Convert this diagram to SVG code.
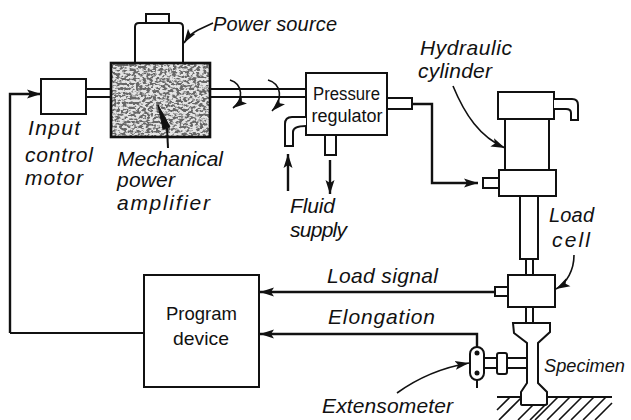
<svg xmlns="http://www.w3.org/2000/svg" width="631" height="420" viewBox="0 0 631 420">
<style>
.s{fill:none;stroke:#111;stroke-width:2;stroke-linejoin:round}
.f{fill:#fff;stroke:#111;stroke-width:2}
.t{stroke:#111;stroke-width:1.6;fill:none}
.a{fill:none;stroke:#111;stroke-width:2.4;marker-end:url(#ah)}
.b{fill:none;stroke:#111;stroke-width:1.6;marker-end:url(#ah)}
text{font-family:"Liberation Sans",Arial,sans-serif;font-style:italic;font-size:21px;fill:#111}
.u{font-style:normal;font-size:18px;text-anchor:middle}
</style>
<defs>
<marker id="ah" markerUnits="userSpaceOnUse" markerWidth="15" markerHeight="10" refX="14" refY="5" orient="auto"><path d="M0 0.5L14 5L0 9.500L3 5Z" fill="#111"/></marker>
<filter id="grain" x="0" y="0" width="100%" height="100%"><feTurbulence type="fractalNoise" baseFrequency="0.3 0.42" numOctaves="2" seed="11"/><feColorMatrix values="0 0 0 0 0.1 0 0 0 0 0.1 0 0 0 0 0.1 6 0 0 0 -2.6"/><feComposite in2="SourceGraphic" operator="in"/><feGaussianBlur stdDeviation="0.55"/></filter>
</defs>
<rect width="631" height="420" fill="#fff"/>
<g id="connectors">
<path class="a" d="M10 333V94H41"/>
<path class="s" d="M10 333H144" stroke-width="2.4"/>
<path class="a" d="M412 104H432V183H478"/>
<path class="a" d="M495 292H260"/>
<path class="a" d="M477 351V334H260"/>
<path class="a" d="M288 191V154"/>
<path class="a" d="M330 160V194"/>
<path class="s" d="M86 89H111M86 97H111M210 89H306M210 97H306"/>
<path class="b" d="M230 80C243 84 244 100 233 108"/>
<path class="b" d="M268 80C282 84 283 100 272 111"/>
</g>
<g id="power-source"><path class="f" d="M146 23V14H169V23"/><path class="f" d="M135 63V27Q135 23 139 23H179Q183 23 183 27V63"/></g>
<g id="input-motor"><rect class="f" x="41" y="79" width="45" height="35"/></g>
<g id="amplifier"><rect x="111" y="63" width="99" height="74" fill="#e4e4e4"/><rect x="112" y="64" width="97" height="72" fill="#000" filter="url(#grain)" opacity="0.9"/><rect x="111" y="63" width="99" height="74" fill="none" stroke="#111" stroke-width="2.6"/><path d="M168 148L167 128" class="s"/><path d="M158 105L170 127L163 129Z" fill="#111" stroke="#111"/></g>
<g id="pressure-regulator"><rect class="f" x="306" y="73" width="81" height="62"/><rect class="f" x="387" y="98" width="25" height="11"/><rect class="f" x="325" y="135" width="11" height="20"/><path class="f" d="M306 117H292Q285 117 285 124V146H293V132Q293 126 306 126"/><text class="u" x="346.500" y="100" textLength="67" lengthAdjust="spacingAndGlyphs">Pressure</text><text class="u" x="347" y="122" textLength="71" lengthAdjust="spacingAndGlyphs">regulator</text></g>
<g id="hydraulic-cylinder"><rect class="f" x="505" y="119" width="44" height="52"/><rect class="f" x="498" y="92" width="56" height="27"/><path class="f" d="M554 99H572Q578 99 578 105V120H571V113Q571 109 566 109H554"/><rect class="f" x="499" y="170" width="57" height="26"/><rect class="f" x="483" y="178" width="16" height="10"/><rect class="f" x="520" y="196" width="18" height="63"/></g>
<g id="load-cell"><path class="s" d="M526 259V275M533 259V275M526 307V322M533 307V322"/><rect class="f" x="508" y="275" width="47" height="32"/><rect class="f" x="495" y="287" width="13" height="9"/></g>
<g id="specimen">
<path class="s" d="M497 397H612"/>
<path class="t" d="M510 397L497 410M522 397L499 420M534 404L518 420M546 404L530 420M558 397L535 420M570 397L547 420M582 397L559 420M594 397L571 420M606 397L583 420M612 403L595 420"/>
<path class="f" d="M513 323H550V332L538 343V383L547 392V404Q546 405 545 405H523Q521 405 521 404V392L527 383V343L514 333Z"/>
</g>
<g id="extensometer">
<path class="s" d="M484 358H527M484 368H527"/>
<rect class="f" x="497" y="353" width="10" height="21" rx="2"/>
<rect class="f" x="470" y="347" width="14" height="33" rx="7"/>
<path class="s" d="M477 380V388M477 351V355"/><circle cx="477" cy="353" r="2.500" fill="#111"/><circle cx="477" cy="373" r="2.500" fill="#111"/>
</g>
<g id="program-device"><rect class="f" x="144" y="275" width="115" height="112"/><text class="u" x="201.500" y="320" style="font-size:19px" textLength="71" lengthAdjust="spacingAndGlyphs">Program</text><text class="u" x="201" y="345" style="font-size:19px" textLength="56" lengthAdjust="spacingAndGlyphs">device</text></g>
<g id="labels">
<path class="b" d="M213 23L198 30Q190 34 184 43"/>
<path class="b" d="M453 86C465 115 480 137 505 148"/>
<path class="b" d="M574 255C574 270 567 283 556 289"/>
<path class="b" d="M397 393C415 380 440 368 469 363"/>
<text x="213" y="31" style="font-size:20px" textLength="124">Power source</text>
<text x="28" y="135" textLength="52">Input</text>
<text x="25" y="162" textLength="68">control</text>
<text x="25" y="185" textLength="58">motor</text>
<text x="117" y="166" textLength="106">Mechanical</text>
<text x="117" y="187" textLength="58">power</text>
<text x="117" y="210" textLength="93">amplifier</text>
<text x="420" y="55" textLength="92">Hydraulic</text>
<text x="418" y="78" textLength="74">cylinder</text>
<text x="290" y="213" textLength="45">Fluid</text>
<text x="290" y="237" textLength="57">supply</text>
<text x="549" y="222" style="font-size:20px" textLength="45">Load</text>
<text x="552" y="247" textLength="38">cell</text>
<text x="327" y="283" textLength="111">Load signal</text>
<text x="328" y="324" textLength="107">Elongation</text>
<text x="544" y="372" style="font-size:18.500px" textLength="81" lengthAdjust="spacingAndGlyphs">Specimen</text>
<text x="322" y="413" textLength="131">Extensometer</text>
</g>
</svg>
